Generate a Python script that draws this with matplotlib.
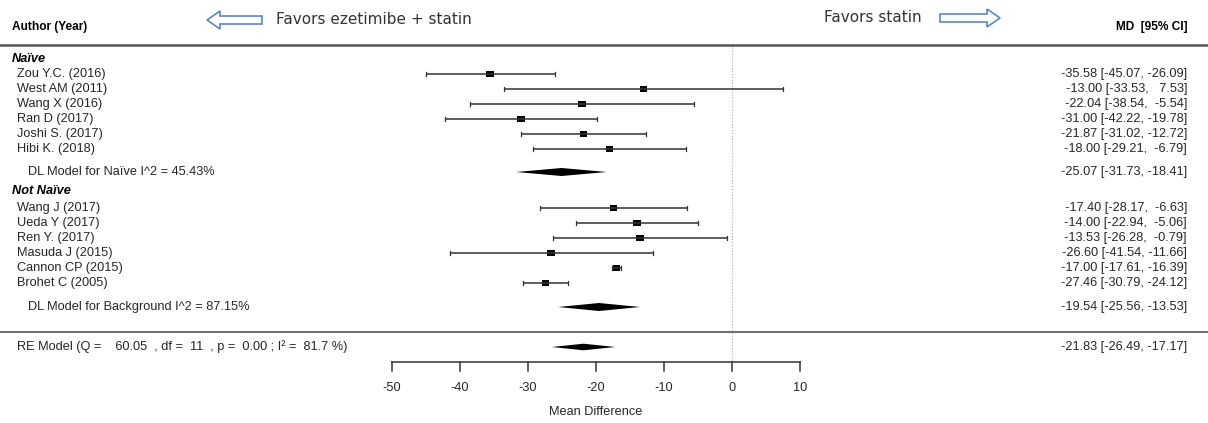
import matplotlib
matplotlib.use("Agg")
import matplotlib.pyplot as plt
from matplotlib.patches import Polygon

# --- data -------------------------------------------------------------
naive_labels = ["Zou Y.C. (2016)", "West AM (2011)", "Wang X (2016)",
                "Ran D (2017)", "Joshi S. (2017)", "Hibi K. (2018)"]
naive_md = [-35.58, -13.00, -22.04, -31.00, -21.87, -18.00]
naive_lo = [-45.07, -33.53, -38.54, -42.22, -31.02, -29.21]
naive_hi = [-26.09, 7.53, -5.54, -19.78, -12.72, -6.79]
naive_pooled = (-25.07, -31.73, -18.41)
naive_model_label = "DL Model for Naïve I^2 = 45.43%"

bg_labels = ["Wang J (2017)", "Ueda Y (2017)", "Ren Y. (2017)",
             "Masuda J (2015)", "Cannon CP (2015)", "Brohet C (2005)"]
bg_md = [-17.40, -14.00, -13.53, -26.60, -17.00, -27.46]
bg_lo = [-28.17, -22.94, -26.28, -41.54, -17.61, -30.79]
bg_hi = [-6.63, -5.06, -0.79, -11.66, -16.39, -24.12]
bg_pooled = (-19.54, -25.56, -13.53)
bg_model_label = "DL Model for Background I^2 = 87.15%"

re_pooled = (-21.83, -26.49, -17.17)
re_label = "RE Model (Q =    60.05  , df =  11  , p =  0.00 ; I² =  81.7 %)"

xticks = [-50, -40, -30, -20, -10, 0, 10]

# --- layout (y in pixel rows, top = 0) --------------------------------
W, H = 1208, 423
X0_PX, PX_PER_UNIT = 732, 6.8


def px2x(px):
    return (px - X0_PX) / PX_PER_UNIT


FONT = "Liberation Sans"
FS = 9.2
TXT = "#262626"

fig = plt.figure(figsize=(W / 100, H / 100), dpi=100)
ax = fig.add_axes([0, 0, 1, 1])
ax.set_xlim(px2x(0), px2x(W))
ax.set_ylim(H, 0)
ax.axis("off")

STEP = 15
y_naive_head = 59
y_naive = [74 + STEP * i for i in range(len(naive_md))]
y_naive_model = y_naive[-1] + 23
y_bg_head = y_naive_model + 19
y_bg = [y_bg_head + 17 + STEP * i for i in range(len(bg_md))]
y_bg_model = y_bg[-1] + 24
y_sep = y_bg_model + 25
y_re = y_sep + 15
y_axis = 362

x_label = px2x(17)
x_right = px2x(1187)


def fmt(md, lo, hi):
    return f"{md:.2f} [{lo:6.2f}, {hi:6.2f}]"


def study_rows(labels, md, lo, hi, ys):
    for lab, m, l, h, y in zip(labels, md, lo, hi, ys):
        ax.plot([l, h], [y, y], color="#333333", lw=1.1, solid_capstyle="butt")
        for e in (l, h):
            ax.plot([e, e], [y - 2.2, y + 2.2], color="#333333", lw=0.9)
        ax.add_patch(Polygon([[m - 0.55, y - 2.6], [m + 0.55, y - 2.6],
                              [m + 0.55, y + 2.6], [m - 0.55, y + 2.6]],
                             closed=True, color="black", lw=0))
        ax.text(x_label, y, lab, ha="left", va="center", fontsize=FS, family=FONT,
                color=TXT)
        ax.text(x_right, y, fmt(m, l, h), ha="right", va="center", fontsize=FS,
                family=FONT, color=TXT)


def diamond(est, y, label, x_text, half=4):
    m, l, h = est
    ax.add_patch(Polygon([[l, y], [m, y - half], [h, y], [m, y + half]],
                         closed=True, color="black", lw=0))
    ax.text(x_text, y, label, ha="left", va="center", fontsize=FS, family=FONT,
            color=TXT)
    ax.text(x_right, y, fmt(m, l, h), ha="right", va="center", fontsize=FS,
            family=FONT, color=TXT)


# header
ax.text(px2x(12), 27, "Author (Year)", ha="left", va="center", fontsize=FS - 0.6,
        family=FONT, weight="bold")
ax.text(x_right, 27, "MD  [95% CI]", ha="right", va="center", fontsize=FS - 0.6,
        family=FONT, weight="bold")
ax.plot([px2x(0), px2x(W)], [45, 45], color="#555555", lw=1.8)

# favour arrows
blue = "#5a88c6"


def arrow(tail_px, head_px, y):
    d = 1 if head_px > tail_px else -1
    neck = head_px - d * 13
    t, n, hd = px2x(tail_px), px2x(neck), px2x(head_px)
    pts = [[t, y - 4], [n, y - 4], [n, y - 9], [hd, y], [n, y + 9], [n, y + 4], [t, y + 4]]
    ax.add_patch(Polygon(pts, closed=True, facecolor="white", edgecolor=blue, lw=1.2))


arrow(262, 207, 20)
ax.text(px2x(276), 19, "Favors ezetimibe + statin", ha="left", va="center",
        fontsize=11, family="DejaVu Sans", color="#333333")
ax.text(px2x(824), 18, "Favors statin", ha="left", va="center",
        fontsize=11, family="DejaVu Sans", color="#333333")
arrow(940, 1000, 18)

# reference line at 0
ax.plot([0, 0], [47, y_axis], color="#aaaaaa", lw=0.8, ls=":")

# groups
ax.text(px2x(12), y_naive_head, "Naïve", ha="left", va="center", fontsize=FS,
        family=FONT, weight="bold", style="italic")
study_rows(naive_labels, naive_md, naive_lo, naive_hi, y_naive)
diamond(naive_pooled, y_naive_model, naive_model_label, px2x(28))

ax.text(px2x(12), y_bg_head, "Not Naïve", ha="left", va="center", fontsize=FS,
        family=FONT, weight="bold", style="italic")
study_rows(bg_labels, bg_md, bg_lo, bg_hi, y_bg)
diamond(bg_pooled, y_bg_model, bg_model_label, px2x(28))

ax.plot([px2x(0), px2x(W)], [y_sep, y_sep], color="#555555", lw=1.2)
diamond(re_pooled, y_re, re_label, px2x(17), half=3.3)

# x axis
ax.plot([xticks[0], xticks[-1]], [y_axis, y_axis], color="#333333", lw=1.1)
for t in xticks:
    ax.plot([t, t], [y_axis, y_axis + 9], color="#333333", lw=1.1)
    ax.text(t, y_axis + 26, f"{t}", ha="center", va="center", fontsize=FS,
            family=FONT, color=TXT)
ax.text((xticks[0] + xticks[-1]) / 2, 412, "Mean Difference", ha="center",
        va="center", fontsize=FS, family=FONT, color=TXT)

fig.savefig("out.png", dpi=100)
